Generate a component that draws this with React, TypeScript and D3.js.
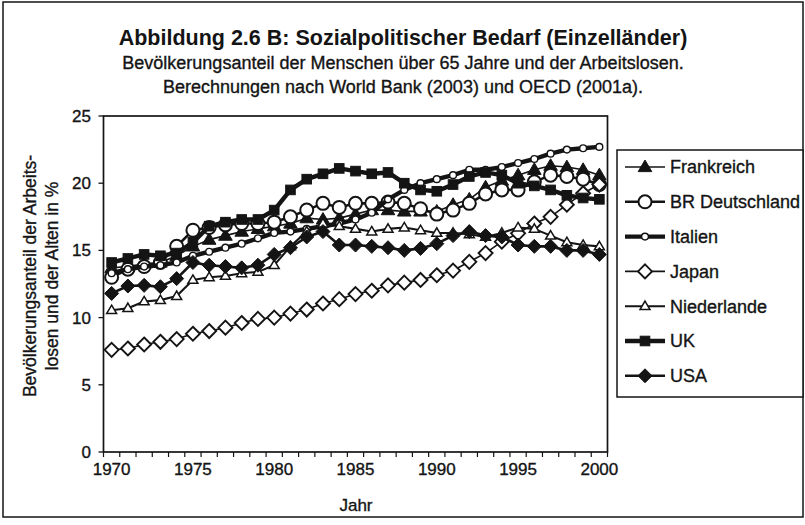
import React from "react";
import * as d3 from "d3";

const years = ["1970","1971","1972","1973","1974","1975","1976","1977","1978","1979","1980","1981","1982","1983","1984","1985","1986","1987","1988","1989","1990","1991","1992","1993","1994","1995","1996","1997","1998","1999","2000"];
const xTickLabels = ["1970","1975","1980","1985","1990","1995","2000"];
const yTicks = [0, 5, 10, 15, 20, 25];

const frankreich = [13.7, 13.8, 14.0, 14.1, 14.6, 15.3, 15.8, 16.1, 16.4, 16.6, 16.8, 17.0, 17.4, 17.3, 17.4, 17.7, 18.0, 18.0, 17.9, 17.9, 17.9, 18.4, 18.8, 19.7, 20.2, 20.6, 21.0, 21.3, 21.2, 21.0, 20.6];
const deutschland = [13.0, 13.6, 13.8, 14.1, 15.3, 16.5, 16.7, 16.9, 17.0, 17.0, 17.1, 17.5, 18.0, 18.5, 18.2, 18.5, 18.5, 18.6, 18.5, 18.1, 17.7, 18.0, 18.5, 19.2, 19.5, 19.5, 20.1, 20.6, 20.5, 20.3, 19.9];
const italien = [13.3, 13.6, 13.8, 13.9, 14.1, 14.6, 14.9, 15.2, 15.5, 15.9, 16.3, 16.4, 16.6, 16.8, 17.0, 17.3, 17.8, 18.8, 19.5, 20.0, 20.3, 20.6, 21.0, 21.0, 21.2, 21.5, 21.8, 22.2, 22.5, 22.6, 22.7];
const japan = [7.6, 7.7, 8.0, 8.2, 8.4, 8.8, 9.0, 9.25, 9.6, 9.9, 10.0, 10.3, 10.6, 11.05, 11.37, 11.75, 12.0, 12.4, 12.6, 12.8, 13.15, 13.5, 14.15, 14.8, 15.65, 16.27, 17.0, 17.5, 18.4, 19.25, 19.9];
const niederlande = [10.55, 10.7, 11.2, 11.3, 11.6, 12.8, 13.0, 13.1, 13.3, 13.4, 13.9, 15.3, 16.4, 17.0, 16.8, 16.6, 16.4, 16.6, 16.7, 16.5, 16.3, 16.3, 16.2, 16.0, 16.3, 16.7, 16.6, 16.1, 15.6, 15.4, 15.3];
const uk = [14.1, 14.4, 14.7, 14.6, 14.8, 15.6, 16.8, 17.1, 17.3, 17.3, 18.0, 19.5, 20.3, 20.7, 21.1, 20.9, 20.7, 20.8, 20.0, 19.5, 19.4, 19.9, 20.5, 20.8, 20.6, 20.0, 19.8, 19.5, 19.1, 18.9, 18.8];
const usa = [11.8, 12.35, 12.4, 12.3, 12.9, 14.1, 13.9, 13.8, 13.7, 13.9, 14.7, 15.2, 16.0, 16.4, 15.4, 15.4, 15.3, 15.2, 15.0, 15.15, 15.5, 16.1, 16.4, 16.1, 16.0, 15.4, 15.3, 15.3, 15.0, 15.0, 14.7];

const seriesNames = ["Frankreich", "BR Deutschland", "Italien", "Japan", "Niederlande", "UK", "USA"];

type MarkerKind = "triUp" | "circle" | "diamond" | "square";
interface Style { lw: number; marker: MarkerKind; size: number; filled: boolean; mw: number }

const styles: Style[] = [
  { lw: 1.6, marker: "triUp", size: 6.8, filled: true, mw: 1 },
  { lw: 2.6, marker: "circle", size: 6.5, filled: false, mw: 2 },
  { lw: 4.4, marker: "circle", size: 3.4, filled: false, mw: 1.4 },
  { lw: 1.6, marker: "diamond", size: 7, filled: false, mw: 1.9 },
  { lw: 2.1, marker: "triUp", size: 5, filled: false, mw: 1.5 },
  { lw: 4.4, marker: "square", size: 4.8, filled: true, mw: 1 },
  { lw: 2.6, marker: "diamond", size: 7, filled: true, mw: 1 },
];

const seriesData = [frankreich, deutschland, italien, japan, niederlande, uk, usa];

const INK = "#141414";
const FONT = "'Liberation Sans', Arial, sans-serif";
const TXT = { fill: INK, stroke: INK, strokeWidth: 0.35 } as const;

function Marker({ kind, x, y, s, filled, mw }: { kind: MarkerKind; x: number; y: number; s: number; filled: boolean; mw: number }) {
  const fill = filled ? INK : "#fff";
  if (kind === "circle") return <circle cx={x} cy={y} r={s} fill={fill} stroke={INK} strokeWidth={mw} />;
  if (kind === "square") return <rect x={x - s} y={y - s} width={2 * s} height={2 * s} fill={fill} stroke={INK} strokeWidth={mw} />;
  if (kind === "diamond") {
    const p = `${x},${y - s} ${x + s},${y} ${x},${y + s} ${x - s},${y}`;
    return <polygon points={p} fill={fill} stroke={INK} strokeWidth={mw} />;
  }
  const h = s * 1.7;
  const p = `${x},${y - h * 0.6} ${x + s},${y + h * 0.4} ${x - s},${y + h * 0.4}`;
  return <polygon points={p} fill={fill} stroke={INK} strokeWidth={mw} />;
}

export default function App() {
  const W = 805, H = 525;
  const left = 103.5, right = 607.5, top = 116, bottom = 452;
  const x = d3.scaleBand<string>().domain(years).range([left, right]).paddingInner(0).paddingOuter(0);
  const bw = x.bandwidth();
  const cx = (yr: string) => (x(yr) as number) + bw / 2;
  const y = d3.scaleLinear().domain([0, 25]).range([bottom, top]);
  const line = d3.line<number>().x((_, i) => cx(years[i])).y((v) => y(v));

  const legX = 617, legY = 150, legW = 186, legH = 247;
  const legRow0 = 167, legStep = 34.8;

  return (
    <svg width={W} height={H} viewBox={`0 0 ${W} ${H}`} style={{ position: "absolute", left: 0, top: 0, background: "#fff" }} fontFamily={FONT}>
      <rect x={0} y={0} width={W} height={H} fill="#fff" />
      <rect x={3} y={2} width={800} height={515} fill="none" stroke={INK} strokeWidth={1.5} />

      <text x={403} y={45} textAnchor="middle" fontSize={21.5} fontWeight="bold" fill={INK}>Abbildung 2.6 B: Sozialpolitischer Bedarf (Einzelländer)</text>
      <text x={403} y={69} textAnchor="middle" fontSize={18} {...TXT}>Bevölkerungsanteil der Menschen über 65 Jahre und der Arbeitslosen.</text>
      <text x={403} y={93} textAnchor="middle" fontSize={18} {...TXT}>Berechnungen nach World Bank (2003) und OECD (2001a).</text>

      {/* plot frame */}
      <rect x={left} y={top} width={right - left} height={bottom - top} fill="none" stroke={INK} strokeWidth={1.7} />

      {/* y ticks */}
      {yTicks.map((t) => (
        <g key={t}>
          <line x1={left - 5} x2={left} y1={y(t)} y2={y(t)} stroke={INK} strokeWidth={1.3} />
          <text x={91} y={y(t)} dy="0.35em" textAnchor="end" fontSize={17} {...TXT}>{t}</text>
        </g>
      ))}

      {/* x ticks */}
      {years.map((yr) => (
        <line key={yr} x1={x(yr) as number} x2={x(yr) as number} y1={bottom} y2={bottom + 5} stroke={INK} strokeWidth={1.2} />
      ))}
      <line x1={right} x2={right} y1={bottom} y2={bottom + 5} stroke={INK} strokeWidth={1.2} />
      {xTickLabels.map((l) => (
        <text key={l} x={cx(l)} y={475} textAnchor="middle" fontSize={17} {...TXT}>{l}</text>
      ))}
      <text x={356} y={511} textAnchor="middle" fontSize={17} {...TXT}>Jahr</text>

      {/* y axis title */}
      <g transform={`translate(30,276) rotate(-90)`}>
        <text x={0} y={0} dy="0.35em" textAnchor="middle" fontSize={17.5} {...TXT}>Bevölkerungsanteil der Arbeits-</text>
      </g>
      <g transform={`translate(52,276) rotate(-90)`}>
        <text x={0} y={0} dy="0.35em" textAnchor="middle" fontSize={17.5} {...TXT}>losen und der Alten in %</text>
      </g>

      {/* series */}
      {seriesData.map((d, si) => {
        const st = styles[si];
        return (
          <g key={si}>
            <path d={line(d) || ""} fill="none" stroke={INK} strokeWidth={st.lw} strokeLinejoin="round" />
            {d.map((v, i) => (
              <Marker key={i} kind={st.marker} x={cx(years[i])} y={y(v)} s={st.size} filled={st.filled} mw={st.mw} />
            ))}
          </g>
        );
      })}

      {/* legend */}
      <rect x={legX} y={legY} width={legW} height={legH} fill="#fff" stroke={INK} strokeWidth={1.5} />
      {seriesNames.map((n, i) => {
        const st = styles[i];
        const ly = legRow0 + i * legStep;
        return (
          <g key={n}>
            <line x1={625} x2={665} y1={ly} y2={ly} stroke={INK} strokeWidth={st.lw} />
            <Marker kind={st.marker} x={645} y={ly} s={st.size} filled={st.filled} mw={st.mw} />
            <text x={670} y={ly} dy="0.35em" fontSize={18} {...TXT}>{n}</text>
          </g>
        );
      })}
    </svg>
  );
}
